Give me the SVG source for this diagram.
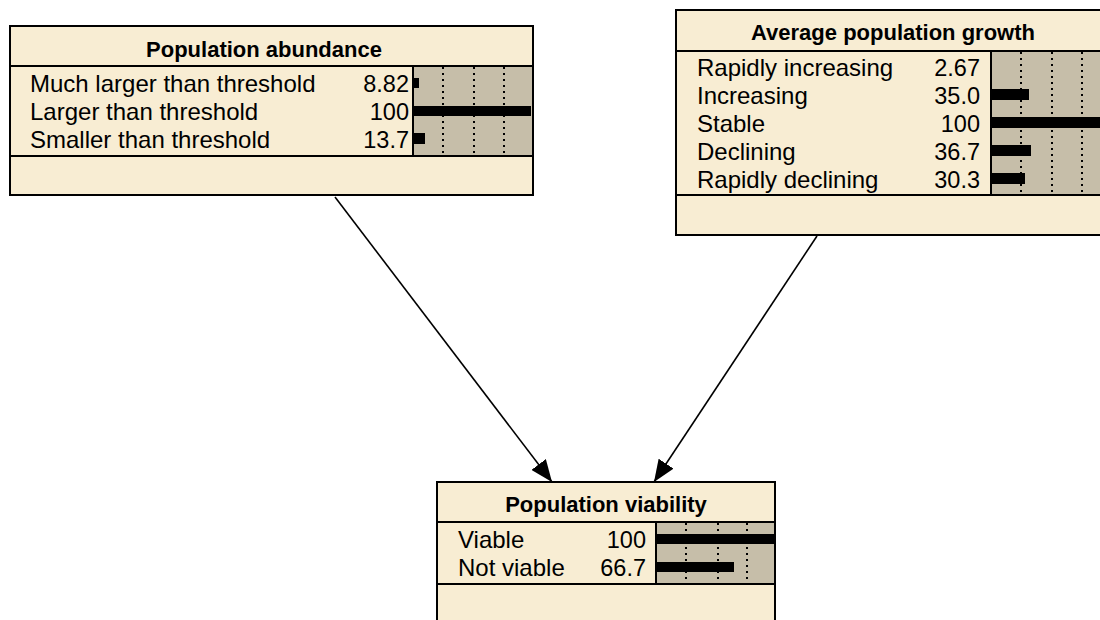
<svg xmlns="http://www.w3.org/2000/svg" width="1100" height="620" viewBox="0 0 1100 620">
<style>
.box{fill:#F8EDD3;stroke:#000;stroke-width:2}
.bars{fill:#C6BEA9;stroke:#000;stroke-width:2}
.sep{stroke:#000;stroke-width:2}
.dot{stroke:#000;stroke-width:2;stroke-dasharray:2,4}
.bar{fill:#000}
.title{font-family:"Liberation Sans",Arial,sans-serif;font-weight:bold;font-size:22px;text-anchor:middle;fill:#000}
.lbl{font-family:"Liberation Sans",Arial,sans-serif;font-size:24px;fill:#000}
.num{font-family:"Liberation Sans",Arial,sans-serif;font-size:23.5px;text-anchor:end;fill:#000}
.edge{stroke:#000;stroke-width:1.6;fill:none}
</style>
<defs>
<marker id="arr" viewBox="0 0 22 18" refX="22" refY="9" markerWidth="22" markerHeight="18" markerUnits="userSpaceOnUse" orient="auto">
<path d="M0,0 L22,9 L0,18 Z" fill="#000"/>
</marker>
</defs>
<g id="connectors">
<line class="edge" x1="335" y1="197" x2="552" y2="482" marker-end="url(#arr)"/>
<line class="edge" x1="817" y1="236" x2="654" y2="482" marker-end="url(#arr)"/>
</g>
<g id="node-abundance">
<rect class="box" x="10" y="26" width="523" height="169"/>
<rect class="bars" x="413" y="66" width="120" height="90"/>
<line class="dot" x1="443" y1="67" x2="443" y2="155"/>
<line class="dot" x1="474" y1="67" x2="474" y2="155"/>
<line class="dot" x1="504" y1="67" x2="504" y2="155"/>
<line class="sep" x1="10" y1="66" x2="533" y2="66"/>
<line class="sep" x1="10" y1="156" x2="533" y2="156"/>
<rect class="bar" x="413" y="78" width="6" height="10"/>
<rect class="bar" x="413" y="106" width="118" height="10"/>
<rect class="bar" x="413" y="133" width="12" height="11"/>
<text class="title" x="264" y="57">Population abundance</text>
<text class="lbl" x="30" y="92">Much larger than threshold</text>
<text class="lbl" x="30" y="120">Larger than threshold</text>
<text class="lbl" x="30" y="148">Smaller than threshold</text>
<text class="num" x="409" y="92">8.82</text>
<text class="num" x="409" y="120">100</text>
<text class="num" x="409" y="148">13.7</text>
</g>
<g id="node-growth">
<rect class="box" x="676" y="10" width="435" height="225"/>
<rect class="bars" x="991" y="51" width="120" height="144"/>
<line class="dot" x1="1021" y1="52" x2="1021" y2="194"/>
<line class="dot" x1="1052" y1="52" x2="1052" y2="194"/>
<line class="dot" x1="1082" y1="52" x2="1082" y2="194"/>
<line class="sep" x1="676" y1="51" x2="1111" y2="51"/>
<line class="sep" x1="676" y1="195" x2="1111" y2="195"/>
<rect class="bar" x="991" y="89" width="38" height="11"/>
<rect class="bar" x="991" y="117" width="120" height="11"/>
<rect class="bar" x="991" y="145" width="40" height="11"/>
<rect class="bar" x="991" y="173" width="34" height="11"/>
<text class="title" x="893" y="40">Average population growth</text>
<text class="lbl" x="697" y="76">Rapidly increasing</text>
<text class="lbl" x="697" y="104">Increasing</text>
<text class="lbl" x="697" y="132">Stable</text>
<text class="lbl" x="697" y="160">Declining</text>
<text class="lbl" x="697" y="188">Rapidly declining</text>
<text class="num" x="980" y="76">2.67</text>
<text class="num" x="980" y="104">35.0</text>
<text class="num" x="980" y="132">100</text>
<text class="num" x="980" y="160">36.7</text>
<text class="num" x="980" y="188">30.3</text>
</g>
<g id="node-viability">
<rect class="box" x="437" y="482" width="338" height="145"/>
<rect class="bars" x="656" y="522" width="119" height="62"/>
<line class="dot" x1="686" y1="523" x2="686" y2="583"/>
<line class="dot" x1="718" y1="523" x2="718" y2="583"/>
<line class="dot" x1="747" y1="523" x2="747" y2="583"/>
<line class="sep" x1="437" y1="522" x2="775" y2="522"/>
<line class="sep" x1="437" y1="584" x2="775" y2="584"/>
<rect class="bar" x="656" y="534" width="118" height="10"/>
<rect class="bar" x="656" y="562" width="78" height="10"/>
<text class="title" x="606" y="512">Population viability</text>
<text class="lbl" x="458" y="548">Viable</text>
<text class="lbl" x="458" y="576">Not viable</text>
<text class="num" x="646" y="548">100</text>
<text class="num" x="646" y="576">66.7</text>
</g>
</svg>
